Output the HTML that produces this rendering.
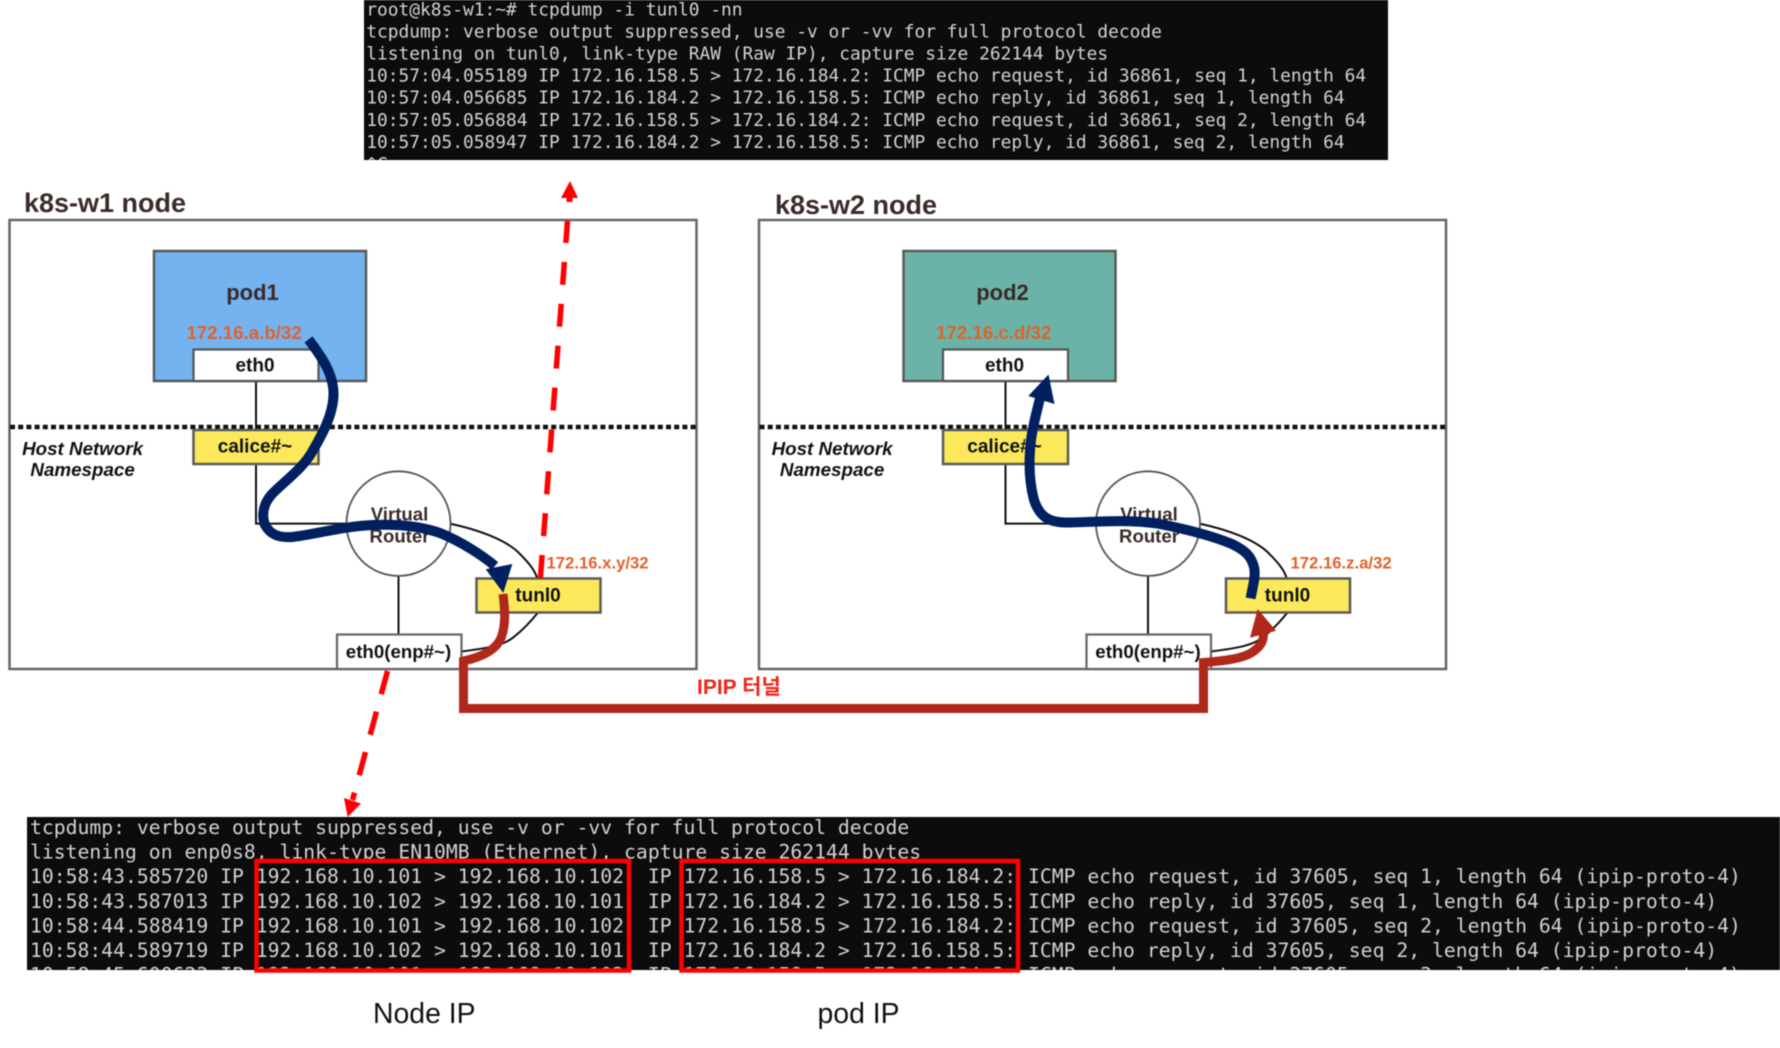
<!DOCTYPE html>
<html lang="ko">
<head>
<meta charset="utf-8">
<title>IPIP tunnel diagram</title>
<style>
html,body{margin:0;padding:0;background:#fff;width:1780px;height:1048px;overflow:hidden}
svg{display:block;filter:blur(.45px)}
.mono{font-family:"DejaVu Sans Mono","Liberation Mono",monospace;fill:#d2d2d2}
.sans{font-family:"Liberation Sans","Noto Sans CJK KR",sans-serif}
.b{font-weight:bold;fill:#111}
.thin{fill:none;stroke:#111;stroke-width:2}
.box{stroke:#5a5a5a;stroke-width:2.5}
.ip{font-weight:bold;fill:#E0622A}
.ns{font-weight:bold;font-style:italic;fill:#111;font-size:18.8px}
.vr{font-weight:bold;fill:#3a2a28;font-size:18.6px}
</style>
</head>
<body>
<svg width="1780" height="1048" viewBox="0 0 1780 1048" xmlns="http://www.w3.org/2000/svg" class="sans">
<defs>
<clipPath id="t1"><rect x="364" y="0" width="1024" height="160"/></clipPath>
<clipPath id="t2"><rect x="27" y="817" width="1753" height="153"/></clipPath>
<g id="node">
  <rect x="9.5" y="220" width="687" height="449" fill="#fff" stroke="#666" stroke-width="2.5"/>
  <line x1="256" y1="381" x2="256" y2="430" stroke="#111" stroke-width="2"/>
  <path class="thin" d="M256 464V523.6H347"/>
  <line x1="398.5" y1="576" x2="398.5" y2="635" stroke="#111" stroke-width="2"/>
  <path class="thin" d="M450 523.6C480 530 505 540 518 552C528 562 535 570 537 578"/>
  <path class="thin" d="M461 651.5C490 648 505 645 515 636C525 628 532 620 538 612.5"/>
  <ellipse cx="398.5" cy="523.6" rx="52" ry="52.3" fill="#fff" stroke="#555" stroke-width="1.8"/>
  <text class="vr" x="399.5" y="520.5" text-anchor="middle">Virtual</text>
  <text class="vr" x="399.5" y="542.5" text-anchor="middle">Router</text>
  <line x1="10" y1="427" x2="696" y2="427" stroke="#111" stroke-width="4.5" stroke-dasharray="5 3.2"/>
  <text class="ns sans" x="82.6" y="455" text-anchor="middle">Host Network</text>
  <text class="ns sans" x="82.6" y="476" text-anchor="middle">Namespace</text>
  <rect class="box" x="193.5" y="430" width="125" height="34" fill="#FCE95B"/>
  <text class="b" x="255" y="452.5" text-anchor="middle" font-size="19">calice#~</text>
  <rect class="box" x="476.5" y="578.5" width="124" height="34" fill="#FCE95B"/>
  <text class="b" x="538" y="601.5" text-anchor="middle" font-size="19">tunl0</text>
  <rect x="337" y="634.5" width="124.5" height="34.5" fill="#fff" stroke="#666" stroke-width="2.2"/>
  <text class="b" x="398.5" y="658" text-anchor="middle" font-size="18.7">eth0(enp#~)</text>
</g>
</defs>

<!-- top terminal -->
<rect x="364" y="0" width="1024" height="160" fill="#0c0c0c"/>
<g clip-path="url(#t1)" class="mono" font-size="17.87" xml:space="preserve">
<text x="366.2" y="15.5">root@k8s-w1:~# tcpdump -i tunl0 -nn</text>
<text x="366.2" y="37.5">tcpdump: verbose output suppressed, use -v or -vv for full protocol decode</text>
<text x="366.2" y="59.5">listening on tunl0, link-type RAW (Raw IP), capture size 262144 bytes</text>
<text x="366.2" y="81.5">10:57:04.055189 IP 172.16.158.5 &gt; 172.16.184.2: ICMP echo request, id 36861, seq 1, length 64</text>
<text x="366.2" y="103.7">10:57:04.056685 IP 172.16.184.2 &gt; 172.16.158.5: ICMP echo reply, id 36861, seq 1, length 64</text>
<text x="366.2" y="125.8">10:57:05.056884 IP 172.16.158.5 &gt; 172.16.184.2: ICMP echo request, id 36861, seq 2, length 64</text>
<text x="366.2" y="148">10:57:05.058947 IP 172.16.184.2 &gt; 172.16.158.5: ICMP echo reply, id 36861, seq 2, length 64</text>
<text x="366.2" y="170">^C</text>
</g>

<!-- titles -->
<text x="24" y="212" font-size="27" font-weight="bold" fill="#3b2a28">k8s-w1 node</text>
<text x="775" y="214" font-size="27" font-weight="bold" fill="#3b2a28">k8s-w2 node</text>

<!-- node 1 -->
<use href="#node"/>
<rect class="box" x="154" y="251" width="212" height="130" fill="#75B2F0"/>
<rect x="193.5" y="349.5" width="125" height="31.5" fill="#fff" stroke="#555" stroke-width="2.2"/>
<text x="252.5" y="300" text-anchor="middle" font-size="22" font-weight="bold" fill="#3a2a28">pod1</text>
<text class="ip" x="186.4" y="339" font-size="18.7">172.16.a.b/32</text>
<text class="b" x="255" y="371.5" text-anchor="middle" font-size="19">eth0</text>
<text class="ip" x="546.5" y="568.5" font-size="16.7">172.16.x.y/32</text>

<!-- node 2 -->
<use href="#node" x="749.5"/>
<rect class="box" x="903.5" y="251" width="212" height="130" fill="#6BB3A8"/>
<rect x="943" y="349.5" width="125" height="31.5" fill="#fff" stroke="#555" stroke-width="2.2"/>
<text x="1002.5" y="300" text-anchor="middle" font-size="22" font-weight="bold" fill="#3a2a28">pod2</text>
<text class="ip" x="936" y="339" font-size="18.7">172.16.c.d/32</text>
<text class="b" x="1004.5" y="371.5" text-anchor="middle" font-size="19">eth0</text>
<text class="ip" x="1290.5" y="568.5" font-size="16.7">172.16.z.a/32</text>

<!-- red dashed top -->
<line x1="540.4" y1="578" x2="567.5" y2="221" stroke="#FF0000" stroke-width="5.5" stroke-dasharray="23 19"/>
<rect x="566.5" y="195" width="6" height="7" fill="#FF0000"/>
<polygon points="570,181 578,198 561,198" fill="#FF0000"/>

<!-- red dashed bottom -->
<line x1="387.5" y1="671" x2="352.5" y2="800" stroke="#FF0000" stroke-width="5.5" stroke-dasharray="24 18"/>
<polygon points="347.7,817 344,798 361,803.5" fill="#FF0000"/>

<!-- navy path node 1 -->
<path fill="none" stroke="#002060" stroke-width="10" d="M308.5 339.4C322 357 334 375 333.5 395C333 415 322 435 312 452C303 468 286 480 272 494C264 503 261 514 265 525C270 534 278 538 292 537C312 535 345 526 373 525C396 524 420 526 440 533C460 541 482 555 495 566"/>
<polygon points="503.3,593 485.7,569.3 512.3,564" fill="#002060"/>

<!-- navy path node 2 -->
<path fill="none" stroke="#002060" stroke-width="10" d="M1250.6 598.4C1253 585 1256 576 1254 567C1251 556 1246 551 1232 544C1215 537 1190 530 1160 524C1130 519 1095 522 1070 522.5C1050 523 1040 518 1034 500C1030 485 1028 465 1031 440C1033 425 1036 415 1040 398"/>
<polygon points="1048.5,374.5 1028.3,396 1054.5,404" fill="#002060"/>

<!-- red tunnel path -->
<path fill="none" stroke="#B0281A" stroke-width="9" stroke-linejoin="miter" d="M503 594C505 610 506 625 501 638C496 650 482 657 463.5 661V708.5H1203.5V662.5C1222 661 1244 659 1254 651C1262 645 1264 640 1263.5 630"/>
<polygon points="1257.7,609 1250,637.7 1276,630.7" fill="#B0281A"/>

<text x="697" y="694" font-size="21" font-weight="bold" fill="#F0261C">IPIP 터널</text>

<!-- bottom terminal -->
<rect x="27" y="817" width="1753" height="153" fill="#0c0c0c"/>
<g clip-path="url(#t2)" class="mono" font-size="19.74" xml:space="preserve">
<text x="30" y="834">tcpdump: verbose output suppressed, use -v or -vv for full protocol decode</text>
<text x="30" y="858.6">listening on enp0s8, link-type EN10MB (Ethernet), capture size 262144 bytes</text>
<text x="30" y="883.2">10:58:43.585720 IP 192.168.10.101 &gt; 192.168.10.102: IP 172.16.158.5 &gt; 172.16.184.2: ICMP echo request, id 37605, seq 1, length 64 (ipip-proto-4)</text>
<text x="30" y="907.8">10:58:43.587013 IP 192.168.10.102 &gt; 192.168.10.101: IP 172.16.184.2 &gt; 172.16.158.5: ICMP echo reply, id 37605, seq 1, length 64 (ipip-proto-4)</text>
<text x="30" y="932.4">10:58:44.588419 IP 192.168.10.101 &gt; 192.168.10.102: IP 172.16.158.5 &gt; 172.16.184.2: ICMP echo request, id 37605, seq 2, length 64 (ipip-proto-4)</text>
<text x="30" y="957">10:58:44.589719 IP 192.168.10.102 &gt; 192.168.10.101: IP 172.16.184.2 &gt; 172.16.158.5: ICMP echo reply, id 37605, seq 2, length 64 (ipip-proto-4)</text>
<text x="30" y="981.6">10:58:45.600623 IP 192.168.10.101 &gt; 192.168.10.102: IP 172.16.158.5 &gt; 172.16.184.2: ICMP echo request, id 37605, seq 3, length 64 (ipip-proto-4)</text>
</g>
<rect x="256.5" y="861" width="372.5" height="109.5" fill="none" stroke="#FF0000" stroke-width="4.5"/>
<rect x="681.5" y="861" width="336.5" height="109.5" fill="none" stroke="#FF0000" stroke-width="4.5"/>

<text x="373" y="1023" font-size="28.4" fill="#111">Node IP</text>
<text x="817.5" y="1023" font-size="28.4" fill="#111">pod IP</text>
</svg>
</body>
</html>
